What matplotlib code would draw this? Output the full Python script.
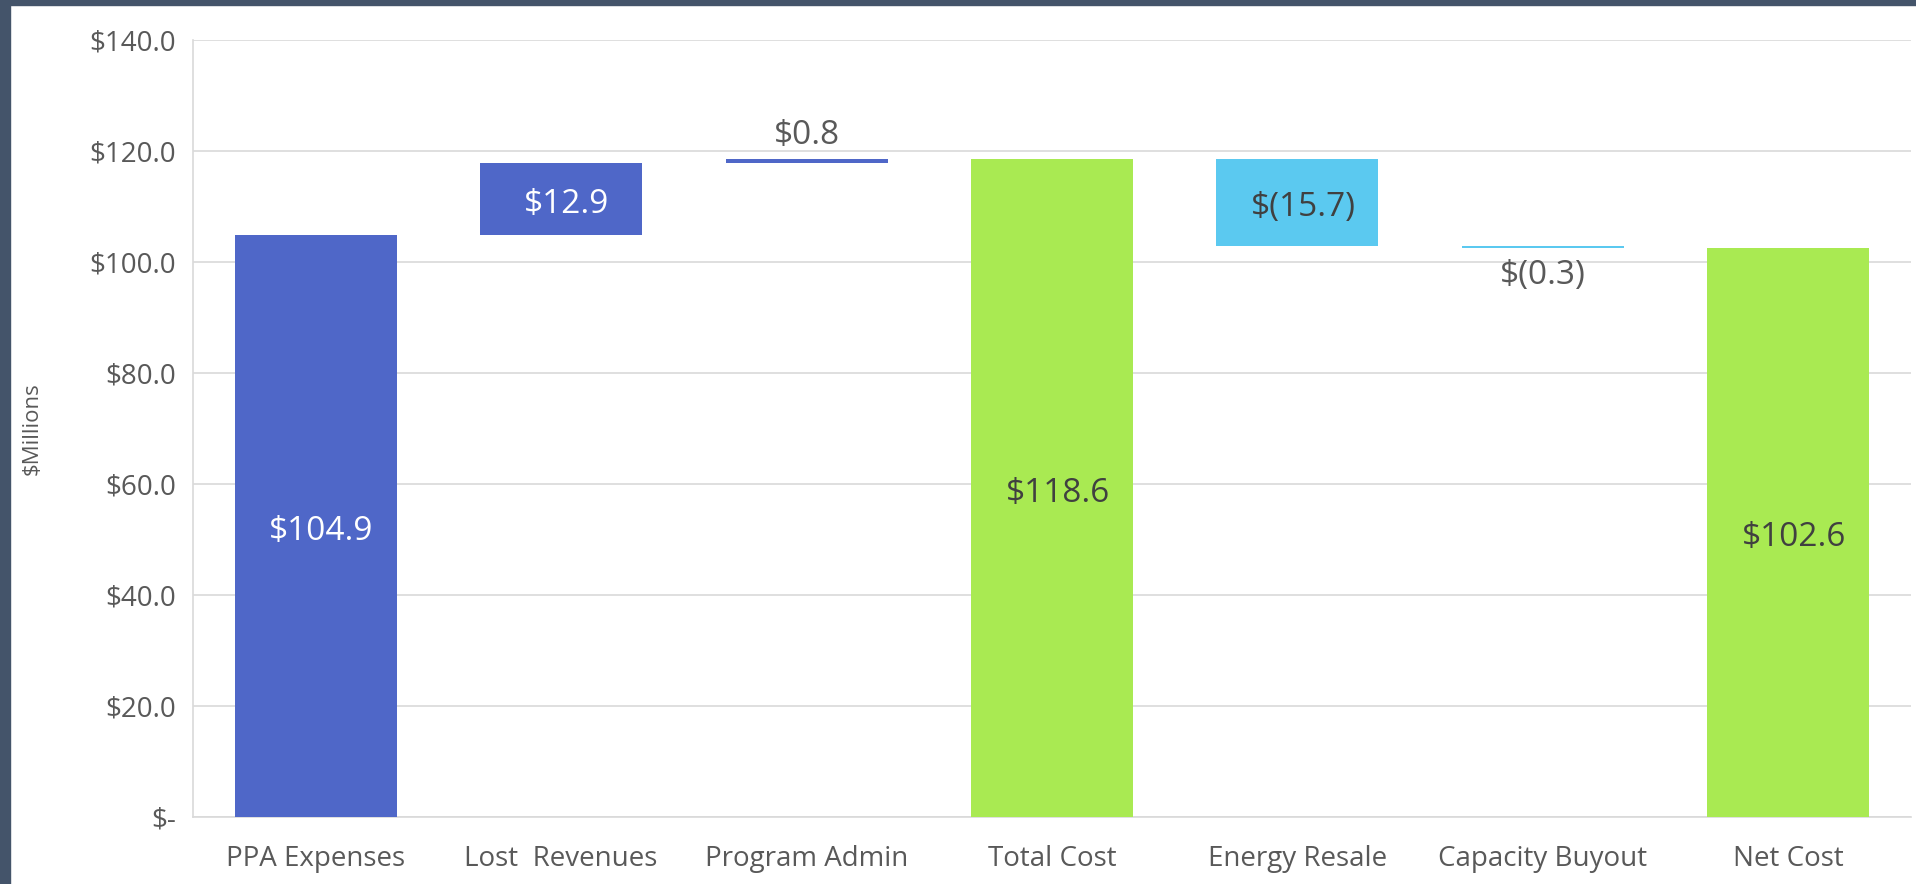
import numpy as np
import matplotlib
matplotlib.use("Agg")
import matplotlib.pyplot as plt
from matplotlib.patches import Rectangle

plt.rcParams['font.family'] = ['Open Sans', 'DejaVu Sans']

# data, $ millions
categories = ["PPA Expenses", "Lost  Revenues", "Program Admin", "Total Cost",
              "Energy Resale", "Capacity Buyout", "Net Cost"]
values = [104.9, 12.9, 0.8, 118.6, -15.7, -0.3, 102.6]
kinds = ["start", "step", "step", "total", "step", "step", "total"]

blue = "#4F67C8"
green = "#A9EA52"
light_blue = "#5BC9F0"
grey_txt = "#595959"

fig = plt.figure(figsize=(19.16, 8.84), dpi=100)
ax = fig.add_axes([193 / 1916, 1 - 817 / 884, (1911 - 193) / 1916, (817 - 40) / 884])

running = 0.0
x = np.arange(len(categories))
for i, (v, k) in enumerate(zip(values, kinds)):
    if k in ("start", "total"):
        bottom, height = 0.0, v
        running = v
        color = blue if k == "start" else green
    else:
        if v >= 0:
            bottom, height = running, v
            color = blue
        else:
            bottom, height = running + v, -v
            color = light_blue
        running += v
    ax.bar(x[i], height, bottom=bottom, width=0.66, color=color, zorder=3)

    # label text
    if v < 0:
        txt = "$(%.1f)" % abs(v)
    else:
        txt = "$%.1f" % v
    if height < 3:
        if v >= 0:
            ax.annotate(txt, (x[i], bottom + height), xytext=(0, 5), textcoords="offset points",
                        ha="center", va="bottom", fontsize=24, color=grey_txt)
        else:
            ax.annotate(txt, (x[i], bottom), xytext=(0, -8), textcoords="offset points",
                        ha="center", va="top", fontsize=24, color=grey_txt)
    else:
        tc = "white" if color == blue else "#404040"
        ax.annotate(txt, (x[i], bottom + height / 2), xytext=(4, -4), textcoords="offset points",
                    ha="center", va="center", fontsize=24, color=tc, zorder=4)

ax.set_xlim(-0.5, len(categories) - 0.5)
ax.set_ylim(0, 140)
ax.set_yticks(np.arange(0, 141, 20))
ax.set_yticklabels(["$-"] + ["$%.1f" % t for t in np.arange(20, 141, 20)])
ax.set_xticks(x)
ax.set_xticklabels(categories)
ax.tick_params(axis="both", length=0, labelsize=20, colors=grey_txt)
ax.tick_params(axis="x", pad=20)
ax.tick_params(axis="y", pad=12)
ax.grid(axis="y", color="#D9D9D9", linewidth=1.2, zorder=0)
for s in ("top", "right"):
    ax.spines[s].set_visible(False)
for s in ("left", "bottom"):
    ax.spines[s].set_color("#D9D9D9")
    ax.spines[s].set_linewidth(1.2)
ax.set_ylabel("$Millions", fontsize=16, color=grey_txt)
ax.yaxis.set_label_coords(-150 / 1718, 0.5)

# dark frame around the picture (left and top edges)
fig.patches.append(Rectangle((0, 0), 10 / 1916, 1, transform=fig.transFigure,
                             color="#44546A", zorder=0))
fig.patches.append(Rectangle((0, 1 - 5 / 884), 1, 5 / 884, transform=fig.transFigure,
                             color="#44546A", zorder=0))

fig.savefig("out.png", dpi=100)
